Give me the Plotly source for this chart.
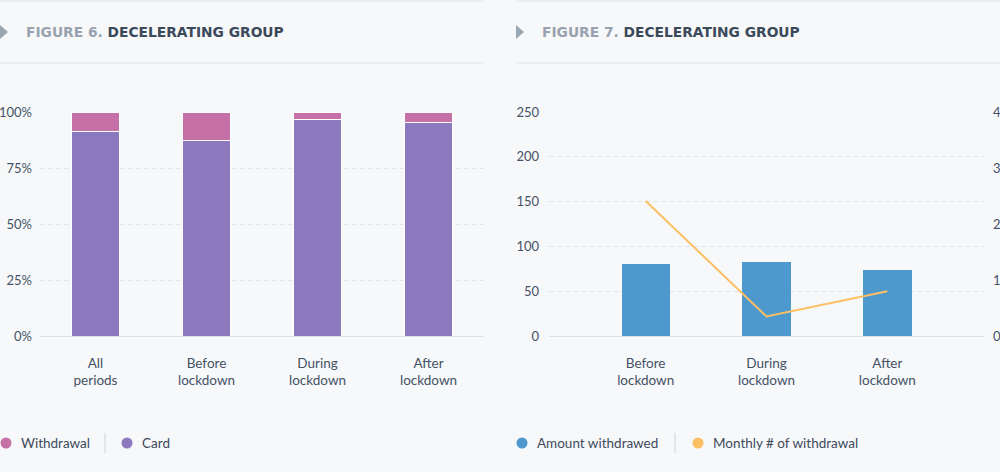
import plotly.graph_objects as go

# ---- data ----
cats_left = ["All<br>periods", "Before<br>lockdown", "During<br>lockdown", "After<br>lockdown"]
card_share = [0.915, 0.875, 0.967, 0.955]
withdrawal_share = [0.085, 0.125, 0.033, 0.045]

cats_right = ["Before<br>lockdown", "During<br>lockdown", "After<br>lockdown"]
amount_withdrawed = [80.4, 82.6, 73.7]
monthly_withdrawals = [2.41, 0.35, 0.80]

left_ticks = [0, 0.25, 0.5, 0.75, 1.0]
right_left_ticks = [0, 50, 100, 150, 200, 250]
right_right_ticks = [0, 1, 2, 3, 4]

# ---- style ----
W, H = 1000, 472
BG = "#f7f8fa"
PURPLE = "#8c78bd"
PINK = "#c570a6"
BLUE = "#4d99cd"
ORANGE = "#fdbf63"
TXT = "#445265"
GRID = "#e1e4e8"
FONT = "Lato"

def px(x):
    return x / W

def py(y):
    return 1 - y / H

fig = go.Figure()

fig.add_trace(go.Bar(x=cats_left, y=card_share, name="Card", marker=dict(color=PURPLE, line=dict(color="white", width=1)),
                     width=0.43, xaxis="x", yaxis="y", showlegend=False))
fig.add_trace(go.Bar(x=cats_left, y=withdrawal_share, name="Withdrawal", marker=dict(color=PINK, line=dict(color="white", width=1)),
                     width=0.43, xaxis="x", yaxis="y", showlegend=False))

fig.add_trace(go.Bar(x=cats_right, y=amount_withdrawed, name="Amount withdrawed", marker=dict(color=BLUE, line=dict(width=0)),
                     width=0.4, xaxis="x2", yaxis="y2", showlegend=False))
fig.add_trace(go.Scatter(x=cats_right, y=monthly_withdrawals, name="Monthly # of withdrawal", mode="lines",
                         line=dict(color=ORANGE, width=2), xaxis="x2", yaxis="y3", showlegend=False))

ydom = [py(336), py(112)]
xcommon = dict(showline=False, ticks="", automargin=False,
               tickfont=dict(family=FONT, size=13.5, color=TXT))
ycommon = dict(showline=False, ticks="", automargin=False,
               tickfont=dict(family=FONT, size=13, color=TXT))

fig.update_layout(
    width=W, height=H, margin=dict(l=0, r=0, t=0, b=0, pad=0), autosize=False,
    paper_bgcolor=BG, plot_bgcolor=BG, barmode="stack", showlegend=False,
    font=dict(family=FONT, size=13.5, color=TXT),
    xaxis=dict(domain=[px(40), px(484)], range=[-0.5, 3.5], showgrid=False, zeroline=False,
               ticklabelstandoff=17, **xcommon),
    yaxis=dict(domain=ydom, range=[0, 1.0], tickvals=left_ticks, tickformat=".0%", showgrid=True,
               gridcolor=GRID, griddash="5px,3px", gridwidth=1, zeroline=True, zerolinecolor="#dcdfe3",
               zerolinewidth=1, ticklabelstandoff=7, **ycommon),
    xaxis2=dict(domain=[px(549), px(984)], range=[-0.8, 2.8], showgrid=False, zeroline=False,
                ticklabelstandoff=17, **xcommon),
    yaxis2=dict(domain=ydom, range=[0, 250], tickvals=right_left_ticks, showgrid=True, anchor="x2",
                gridcolor=GRID, griddash="5px,3px", gridwidth=1, zeroline=True, zerolinecolor="#dcdfe3",
                zerolinewidth=1, ticklabelstandoff=9, **ycommon),
    yaxis3=dict(domain=ydom, range=[0, 4], tickvals=right_right_ticks, overlaying="y2", side="right",
                anchor="x2", showgrid=False, zeroline=False, ticklabelstandoff=8, **ycommon),
)

shapes = []
# header rules
for (a, b) in [(0, 484), (516, 1000)]:
    for yy in (1, 63):
        shapes.append(dict(type="line", xref="paper", yref="paper", x0=px(a), x1=px(b), y0=py(yy), y1=py(yy),
                           line=dict(color="#dfe2e6", width=1)))
# header triangles
for x0 in (0, 516):
    shapes.append(dict(type="path", xref="paper", yref="paper",
                       path=f"M {px(x0)} {py(25)} L {px(x0 + 8)} {py(32)} L {px(x0)} {py(39)} Z",
                       fillcolor="#9aa6b2", line=dict(width=0)))

annotations = []
titles = [(24, "FIGURE 6.", "DECELERATING GROUP"), (540, "FIGURE 7.", "DECELERATING GROUP")]
for x0, a, b in titles:
    annotations.append(dict(xref="paper", yref="paper", x=px(x0), y=py(32), xanchor="left", yanchor="middle",
                            showarrow=False,
                            text=f"<b><span style='color:#98a3af'>{a}</span> <span style='color:#3b4a5b'>{b}</span></b>",
                            font=dict(family="DejaVu Sans", size=13.8)))

# legends
legend_items = [
    (6, 19, "Withdrawal", PINK), (127, 140, "Card", PURPLE),
    (522, 535, "Amount withdrawed", BLUE), (698, 711, "Monthly # of withdrawal", ORANGE),
]
r = 5.5
cy = 443
for cx, tx, name, col in legend_items:
    shapes.append(dict(type="circle", xref="paper", yref="paper", x0=px(cx - r), x1=px(cx + r),
                       y0=py(cy + r), y1=py(cy - r), fillcolor=col, line=dict(width=0)))
    annotations.append(dict(xref="paper", yref="paper", x=px(tx), y=py(cy), xanchor="left", yanchor="middle",
                            showarrow=False, text=name, font=dict(family=FONT, size=13.5, color="#3d4a5c")))
for sx in (105, 675):
    shapes.append(dict(type="line", xref="paper", yref="paper", x0=px(sx), x1=px(sx), y0=py(433), y1=py(453),
                       line=dict(color="#cfd4da", width=1)))

fig.update_layout(shapes=shapes, annotations=annotations)
fig.write_html(
    "out.html",
    config={"displayModeBar": False},
    post_script=(
        "document.documentElement.style.margin='0';"
        "document.body.style.margin='0';document.body.style.padding='0';"
        "document.body.style.overflow='hidden';"
        f"document.body.style.background='{BG}';"
    ),
)
